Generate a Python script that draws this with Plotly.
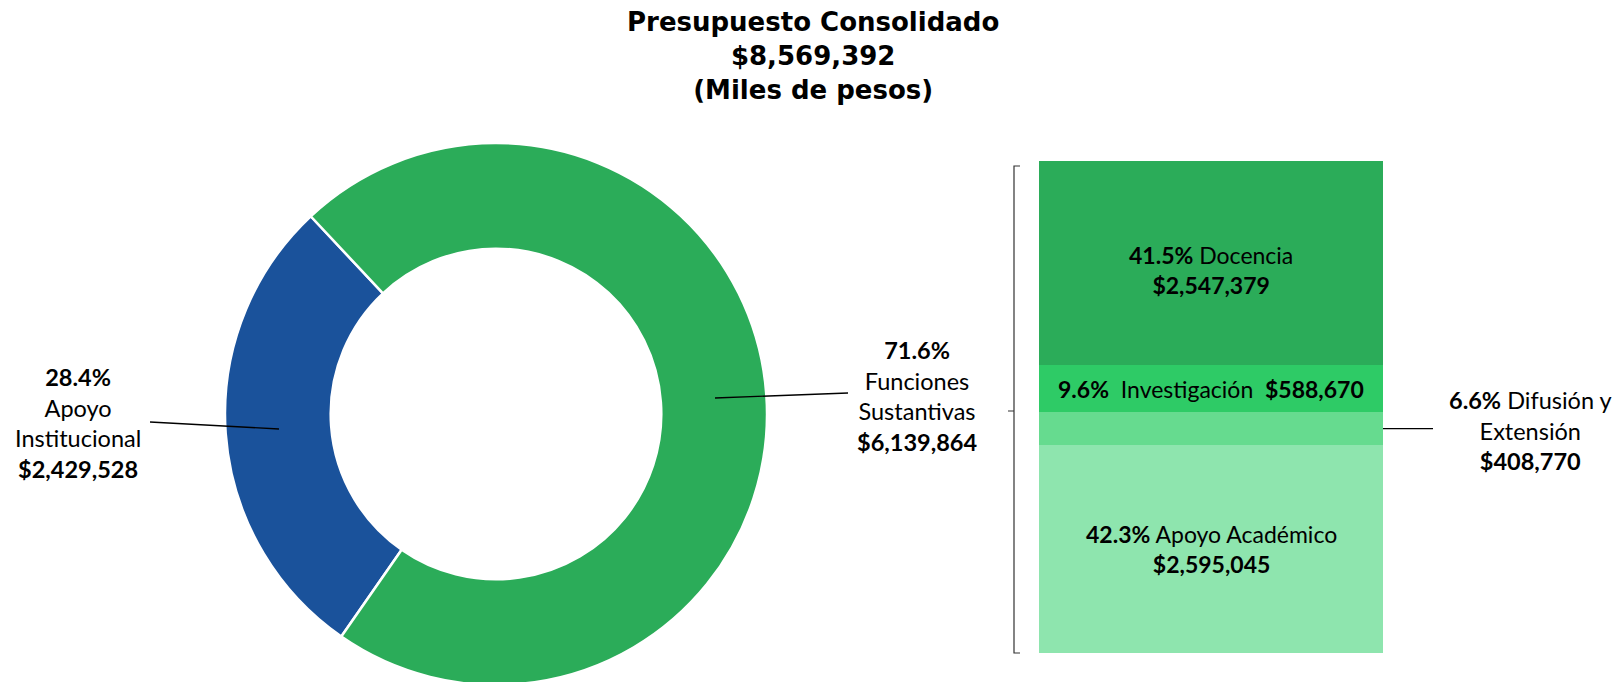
import plotly.graph_objects as go

W, H = 1621, 682

# donut: consolidated budget
donut_labels = ["Apoyo Institucional", "Funciones Sustantivas"]
donut_names = ["Apoyo<br>Institucional", "Funciones<br>Sustantivas"]
donut_values = [2429528, 6139864]
donut_pct = ["28.4%", "71.6%"]
donut_colors = ["#1A529B", "#2BAC59"]

# stacked bar: breakdown of Funciones Sustantivas (bottom to top)
bar_labels = ["Apoyo Académico", "Difusión y Extensión", "Investigación", "Docencia"]
bar_values = [2595045, 408770, 588670, 2547379]
bar_pct = ["42.3%", "6.6%", "9.6%", "41.5%"]
bar_colors = ["#8EE5AE", "#66DB8F", "#2ECB66", "#2BAC59"]

LABEL_FONT = dict(family="Lato", size=23.5, color="black")
BAR_FONT = dict(family="Lato", size=23, color="black")

# page body has an 8px margin, so screen positions are shifted by 8
OFF = 8


def px(x):
    return (x - OFF) / W


def py(y):
    return 1 - (y - OFF) / H


def money(v):
    return f"${v:,.0f}"


fig = go.Figure()

fig.add_trace(go.Pie(
    labels=donut_labels,
    values=donut_values,
    marker=dict(colors=donut_colors, line=dict(color="white", width=2.5)),
    hole=0.61,
    sort=False,
    direction="clockwise",
    rotation=214.8,
    textinfo="none",
    showlegend=False,
    domain=dict(x=[px(225), px(767)], y=[py(685), py(143)]),
))

for name, val, col in zip(bar_labels, bar_values, bar_colors):
    fig.add_trace(go.Bar(
        x=["Funciones Sustantivas"],
        y=[val],
        name=name,
        width=1,
        marker=dict(color=col, line=dict(width=0)),
        showlegend=False,
    ))

total_fs = sum(bar_values)
fig.update_layout(
    width=W, height=H,
    margin=dict(l=0, r=0, t=0, b=0),
    paper_bgcolor="white",
    plot_bgcolor="white",
    barmode="stack",
    bargap=0,
    xaxis=dict(domain=[px(1039), px(1383)], range=[-0.5, 0.5], visible=False),
    yaxis=dict(domain=[py(653), py(161)], range=[0, total_fs], visible=False),
)

annotations = []
total = sum(donut_values)
annotations.append(dict(
    x=px(813), y=py(56), xref="paper", yref="paper",
    text=f"<b>Presupuesto Consolidado<br>{money(total)}<br>(Miles de pesos)</b>",
    showarrow=False, xanchor="center", yanchor="middle",
    font=dict(family="DejaVu Sans", size=26, color="black"),
))

# donut labels
donut_pos = [(78, 423), (917, 396)]
for name, val, pct, (lx, ly) in zip(donut_names, donut_values, donut_pct, donut_pos):
    annotations.append(dict(
        x=px(lx), y=py(ly), xref="paper", yref="paper",
        text=f"<b>{pct}</b><br>{name}<br><b>{money(val)}</b>",
        showarrow=False, font=LABEL_FONT, xanchor="center", yanchor="middle",
    ))

# bar labels
cum = 0
mids = []
for v in bar_values:
    mids.append(cum + v / 2)
    cum += v

nb = "\u00a0"
bar_text = {
    "Apoyo Académico": f"<b>{bar_pct[0]}</b> Apoyo Académico<br><b>{money(bar_values[0])}</b>",
    "Investigación": f"<b>{bar_pct[2]}</b>{nb} Investigación{nb} <b>{money(bar_values[2])}</b>",
    "Docencia": f"<b>{bar_pct[3]}</b> Docencia<br><b>{money(bar_values[3])}</b>",
}
shift = {"Apoyo Académico": 0, "Investigación": 0, "Docencia": -7}
for name, mid in zip(bar_labels, mids):
    if name in bar_text:
        annotations.append(dict(
            x=0, y=mid, xref="x", yref="y", text=bar_text[name],
            showarrow=False, font=BAR_FONT, xanchor="center", yanchor="middle",
            yshift=shift[name],
        ))

annotations.append(dict(
    x=px(1530), y=py(430), xref="paper", yref="paper",
    text=f"<b>{bar_pct[1]}</b> Difusión y<br>Extensión<br><b>{money(bar_values[1])}</b>",
    showarrow=False, font=LABEL_FONT, xanchor="center", yanchor="middle",
))
fig.update_layout(annotations=annotations)

line = dict(color="black", width=1.3)
shapes = [
    # leader lines
    dict(type="line", xref="paper", yref="paper",
         x0=px(150), y0=py(422), x1=px(279), y1=py(429), line=line),
    dict(type="line", xref="paper", yref="paper",
         x0=px(715), y0=py(398), x1=px(848), y1=py(393), line=line),
    dict(type="line", xref="paper", yref="y",
         x0=px(1383), y0=mids[1], x1=px(1433), y1=mids[1], line=line),
    # bracket next to the bar
    dict(type="path", xref="paper", yref="paper",
         path=(f"M {px(1020)} {py(166)} L {px(1014)} {py(166)} "
               f"L {px(1014)} {py(653)} L {px(1020)} {py(653)} "
               f"M {px(1008)} {py(411)} L {px(1014)} {py(411)}"),
         line=dict(color="#333333", width=1.2)),
]
fig.update_layout(shapes=shapes)

fig.write_html("out.html")
